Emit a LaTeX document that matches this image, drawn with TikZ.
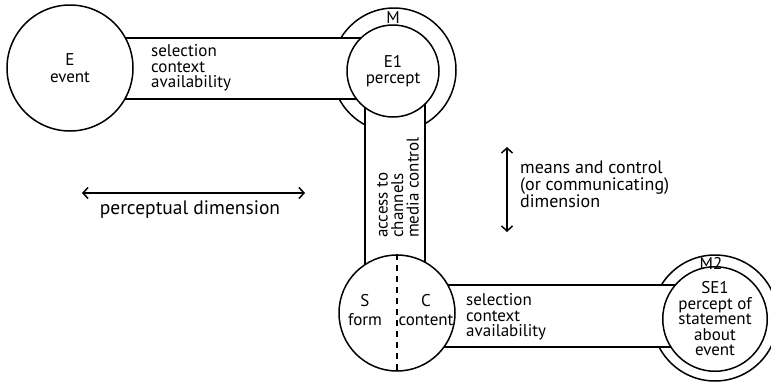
\documentclass[tikz,border=0pt]{standalone}
\usepackage{fontspec}
\setmainfont{PT Sans}
\usetikzlibrary{arrows.meta,positioning}
\tikzset{
	ring/.style={circle,draw,line width=1.5pt,minimum size=#1,inner sep=0},
	disc/.style={circle,draw,fill=white,line width=1.5pt,minimum size=#1,inner sep=0,align=center},
	band/.style={draw,fill=white,line width=1.5pt},
	bandlabel/.style={align=left,inner sep=0},
	dimarrow/.style={<->,>={Straight Barb[length=5pt,width=11pt]},line width=1.5pt}
}

\begin{document}
\begin{tikzpicture}[x=1pt,y=-1pt,font=\fontsize{17}{15.5}\selectfont]
	\useasboundingbox (0,0) rectangle (771,383);
	
	%%outer rings M and M2
	\node[ring=124pt] (m) at (394,70) {};
	\node[ring=126pt] (m2) at (715,318) {};
	
	%%bands between the circles
	\draw[band] (100,38) rectangle (380,99);
	\draw[band] (365,90) rectangle (425,290);
	\draw[band] (430,285) rectangle (690,347);
	
	%%circles
	\node[disc=126pt] (e) at (70,68) {E\\[1pt]event};
	\node[disc=92pt] (e1) at (393,71) {E1\\[1pt]percept};
	\node[disc=116pt] (sc) at (397,313) {};
	\node[disc=90pt] (se1) at (715,319) {SE1\\percept of\\statement\\about\\event};
	\draw[dash pattern=on 6pt off 5pt,line width=1.2pt] (sc.north) -- (sc.south);
	\node[align=center] (s) at (365,310) {S\\[3pt]form};
	\node[align=center] (c) at (426,310) {C\\[3pt]content};
	\node (mlabel) at (393,18) {M};
	\node (m2label) at (711,263) {M2};
	
	%%band labels
	\node[bandlabel,anchor=west] (sel1) at (151,68) {selection\\context\\availability};
	\node[bandlabel,anchor=west] (sel2) at (466,317) {selection\\context\\availability};
	\node[bandlabel,anchor=west,rotate=90] (access) at (398,238) {access to\\channels\\media control};
	
	%%dimensions
	\coordinate (pl) at (82,193);
	\coordinate (pr) at (305,193);
	\draw[dimarrow] (pl) -- (pr);
	\node[font=\fontsize{19.5}{18}\selectfont] (pdim) at (190,210) {perceptual dimension};
	\coordinate (mt) at (507,147);
	\coordinate (mb) at (507,232);
	\draw[dimarrow] (mt) -- (mb);
	\node[bandlabel,anchor=west,font=\fontsize{18}{17}\selectfont] (mdim) at (520,184) {means and control\\(or communicating)\\dimension};
	
\end{tikzpicture}
\end{document}
